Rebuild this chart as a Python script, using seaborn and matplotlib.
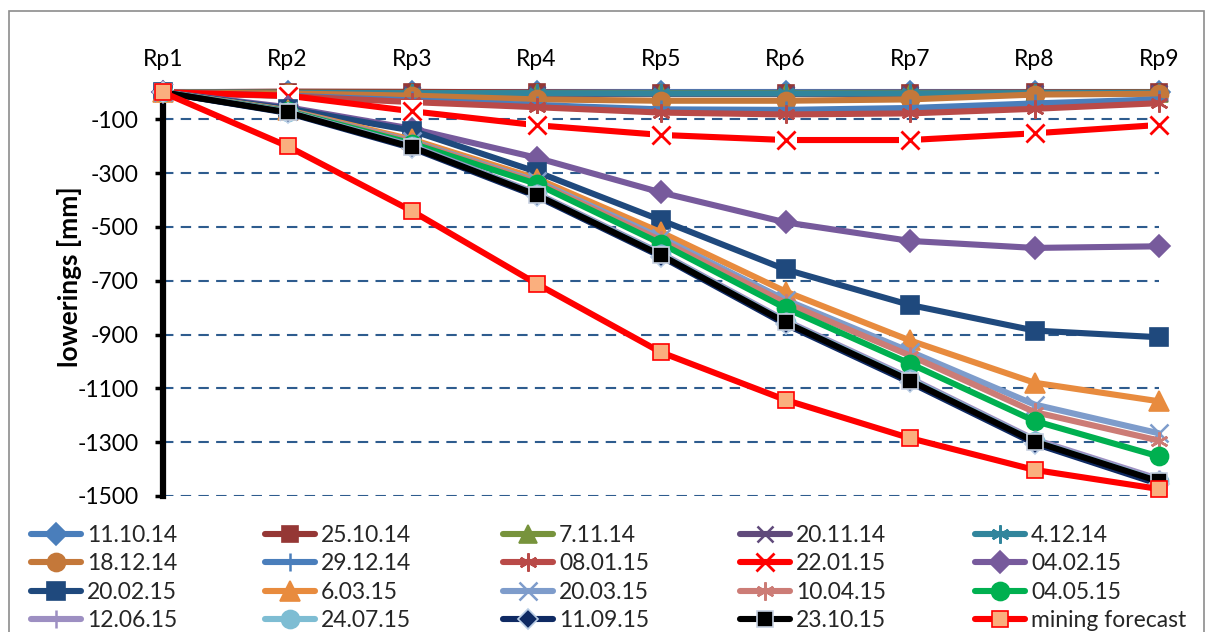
import matplotlib
matplotlib.use("Agg")
import matplotlib.pyplot as plt
from matplotlib.lines import Line2D
from matplotlib.patches import Rectangle
import seaborn as sns
import numpy as np

# ---------------- data ----------------
points = ["Rp1", "Rp2", "Rp3", "Rp4", "Rp5", "Rp6", "Rp7", "Rp8", "Rp9"]

s_11_10_14 = [0, 0, 0, 0, 0, 0, 0, 0, 0]
s_25_10_14 = [0, 3, 2, 0, -2, -2, -1, 0, 1]
s_07_11_14 = [0, -1, -2, -3, -3, -3, -3, -2, -1]
s_20_11_14 = [0, -3, -5, -6, -6, -6, -6, -4, -3]
s_04_12_14 = [0, -2, -3, -3, -4, -4, -4, -3, -2]
s_18_12_14 = [0, -4, -12, -26, -31, -31, -26, -8, -5]
s_29_12_14 = [0, -12, -30, -47, -63, -65, -58, -41, -26]
s_08_01_15 = [0, -14, -36, -55, -75, -82, -78, -61, -40]
s_22_01_15 = [0, -12, -70, -122, -158, -177, -177, -152, -121]
s_04_02_15 = [0, -55, -135, -243, -372, -483, -552, -578, -572]
s_20_02_15 = [0, -60, -142, -295, -475, -658, -790, -885, -910]
s_06_03_15 = [0, -66, -175, -320, -520, -740, -922, -1079, -1148]
s_20_03_15 = [0, -68, -182, -330, -540, -771, -963, -1160, -1267]
s_10_04_15 = [0, -69, -185, -334, -550, -782, -978, -1188, -1294]
s_04_05_15 = [0, -70, -190, -340, -562, -802, -1008, -1221, -1353]
s_12_06_15 = [0, -72, -198, -375, -598, -848, -1062, -1290, -1437]
s_24_07_15 = [0, -73, -201, -379, -602, -853, -1067, -1296, -1444]
s_11_09_15 = [0, -76, -207, -386, -610, -862, -1078, -1305, -1456]
s_23_10_15 = [0, -74, -203, -381, -605, -855, -1071, -1298, -1446]
mining_forecast = [0, -200, -441, -711, -966, -1143, -1285, -1403, -1474]

series_labels = ["11.10.14", "25.10.14", "7.11.14", "20.11.14", "4.12.14",
                 "18.12.14", "29.12.14", "08.01.15", "22.01.15", "04.02.15",
                 "20.02.15", "6.03.15", "20.03.15", "10.04.15", "04.05.15",
                 "12.06.15", "24.07.15", "11.09.15", "23.10.15", "mining forecast"]
series_values = [s_11_10_14, s_25_10_14, s_07_11_14, s_20_11_14, s_04_12_14,
                 s_18_12_14, s_29_12_14, s_08_01_15, s_22_01_15, s_04_02_15,
                 s_20_02_15, s_06_03_15, s_20_03_15, s_10_04_15, s_04_05_15,
                 s_12_06_15, s_24_07_15, s_11_09_15, s_23_10_15, mining_forecast]

y_ticks = [-1500, -1300, -1100, -900, -700, -500, -300, -100]

# ---------------- styles ----------------
AST = (6, 2, 0)
styles = [
    dict(color="#4A7EBB", marker="D", ms=11, mfc="#4A7EBB", mec="#4A7EBB"),
    dict(color="#953735", marker="s", ms=12, mfc="#953735", mec="#953735"),
    dict(color="#77933C", marker="^", ms=13, mfc="#77933C", mec="#77933C"),
    dict(color="#604A7B", marker="x", ms=12, mfc="#604A7B", mec="#604A7B"),
    dict(color="#31859C", marker=AST, ms=13, mfc="#31859C", mec="#31859C"),
    dict(color="#C4783A", marker="o", ms=13, mfc="#C4783A", mec="#C4783A"),
    dict(color="#4A7EBB", marker="+", ms=13, mfc="#4A7EBB", mec="#4A7EBB"),
    dict(color="#B94A48", marker=AST, ms=13, mfc="#B94A48", mec="#B94A48"),
    dict(color="#FF0000", marker="x", ms=13, mfc="#FF0000", mec="#FF0000"),
    dict(color="#775A9C", marker="D", ms=11, mfc="#775A9C", mec="#775A9C"),
    dict(color="#1F497D", marker="s", ms=13, mfc="#1F497D", mec="#1F497D"),
    dict(color="#E88B3E", marker="^", ms=14, mfc="#E88B3E", mec="#E88B3E"),
    dict(color="#7E9CCB", marker="x", ms=13, mfc="#7E9CCB", mec="#7E9CCB"),
    dict(color="#CC7C76", marker=AST, ms=13, mfc="#CC7C76", mec="#CC7C76"),
    dict(color="#00B050", marker="o", ms=13, mfc="#00B050", mec="#00B050"),
    dict(color="#9D8FC2", marker="+", ms=13, mfc="#9D8FC2", mec="#9D8FC2"),
    dict(color="#7EBDD3", marker="o", ms=13, mfc="#7EBDD3", mec="#7EBDD3"),
    dict(color="#0F2A63", marker="D", ms=10, mfc="#0F2A63", mec="#B9CDE5"),
    dict(color="#000000", marker="s", ms=12, mfc="#000000", mec="#C6D0E0"),
    dict(color="#FF0000", marker="s", ms=12, mfc="#FAAF7E", mec="#FF0000"),
]

sns.set_theme(style="white")
plt.rcParams["font.family"] = ["Lato", "DejaVu Sans"]
FS = 16.5

fig = plt.figure(figsize=(12.06, 6.32), dpi=100)
W, H = 1206, 632
ax = fig.add_axes([163 / W, 1 - 496 / H, (1159 - 163) / W, (496 - 92.4) / H])

LW = 4.4
handles = []
for i, (lab, vals, st) in enumerate(zip(series_labels, series_values, styles)):
    z = 3 + i * 0.05
    mew = 1.8 if st["marker"] in ("x", "+", AST) else 1.2
    if lab == "22.01.15":
        sns.lineplot(x=points, y=vals, ax=ax, color=st["color"], lw=LW,
                     sort=False, errorbar=None, zorder=z, legend=False)
        sns.scatterplot(x=points, y=vals, ax=ax, marker="s", s=250,
                        color="white", linewidth=0, zorder=z + 0.01, legend=False)
        sns.scatterplot(x=points, y=vals, ax=ax, marker="x", s=st["ms"] ** 2,
                        color=st["color"], linewidth=2.0, zorder=z + 0.02, legend=False)
    else:
        sns.lineplot(x=points, y=vals, ax=ax, color=st["color"], lw=LW,
                     marker=st["marker"], markersize=st["ms"],
                     markerfacecolor=st["mfc"], markeredgecolor=st["mec"],
                     markeredgewidth=mew, sort=False, errorbar=None,
                     zorder=z, legend=False)
    handles.append(Line2D([], [], color=st["color"], lw=LW, marker=st["marker"],
                          markersize=st["ms"], markerfacecolor=st["mfc"],
                          markeredgecolor=st["mec"],
                          markeredgewidth=2.0 if lab == "22.01.15" else mew))

for art in list(ax.lines) + list(ax.collections):
    art.set_clip_on(False)

ax.set_xlim(0, 8)
ax.set_ylim(-1500, 0)
ax.set_yticks(y_ticks)
ax.set_yticklabels([str(t) for t in y_ticks], fontsize=FS)
ax.xaxis.tick_top()
ax.tick_params(axis="x", length=0, pad=16, labelsize=FS, colors="black")
ax.tick_params(axis="y", direction="out", length=5.5, width=2.5, pad=12,
               left=True, colors="black", labelcolor="black")
ax.grid(False)
ax.yaxis.grid(True, color="#2E5C8E", linestyle=(0, (5, 3.5)), linewidth=1.5, zorder=0)
ax.set_axisbelow(True)
for s in ["top", "right", "bottom"]:
    ax.spines[s].set_visible(False)
ax.spines["left"].set_color("black")
ax.spines["left"].set_linewidth(4.5)
ax.spines["left"].set_zorder(2.5)

ax.set_xlabel("")
ax.set_ylabel("lowerings [mm]", fontsize=19, fontweight="bold", color="black")
ax.yaxis.set_label_coords(-0.081, 0.543)

# legend: 5 columns, filled row by row
col_x = [31, 265, 503, 740, 975]
for c in range(5):
    idx = [r * 5 + c for r in range(4)]
    leg = fig.legend([handles[k] for k in idx], [series_labels[k] for k in idx],
                     loc="upper left", bbox_to_anchor=(col_x[c] / W, 1 - 525 / H),
                     frameon=False, fontsize=FS, handlelength=2.2,
                     handletextpad=0.25, labelspacing=0.32, borderpad=0,
                     borderaxespad=0)

fig.add_artist(Rectangle((9 / W, -0.1), (1204 - 9) / W, 1.1 - 10.7 / H,
                         transform=fig.transFigure, fill=False,
                         edgecolor="#8C8C8C", lw=1.2))

fig.savefig("out.png", dpi=100)
